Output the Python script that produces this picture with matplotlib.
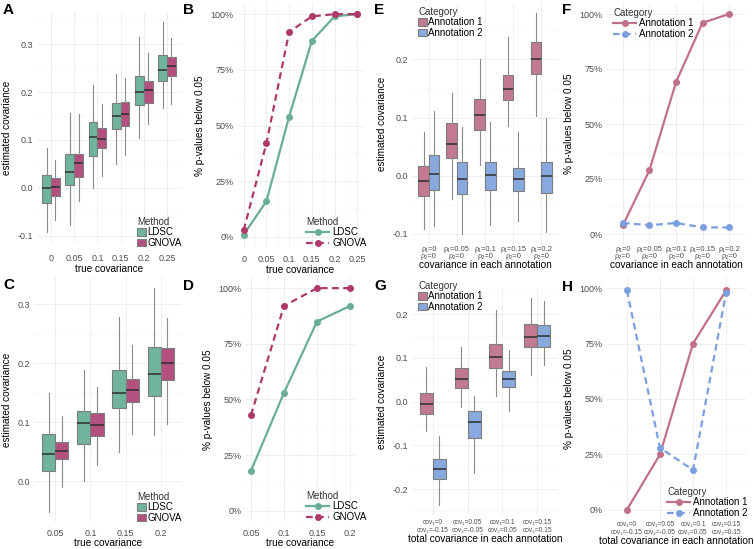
import matplotlib
matplotlib.use('Agg')
import matplotlib.pyplot as plt
from matplotlib.patches import Patch
from matplotlib.lines import Line2D
from matplotlib.ticker import FixedLocator, FuncFormatter

plt.rcParams['font.family'] = ['Liberation Sans', 'DejaVu Sans']

# ---------------- data ----------------
# box stats: [whisker low, q1, median, q3, whisker high]
a_cats = ["0", "0.05", "0.1", "0.15", "0.2", "0.25"]
a_ldsc = [[-0.093, -0.031, -0.001, 0.026, 0.084],
          [-0.078, 0.006, 0.034, 0.071, 0.157],
          [0.000, 0.067, 0.106, 0.138, 0.214],
          [0.050, 0.123, 0.150, 0.177, 0.237],
          [0.105, 0.172, 0.201, 0.233, 0.315],
          [0.167, 0.222, 0.245, 0.277, 0.346]]
a_gnova = [[-0.068, -0.016, 0.002, 0.020, 0.059],
           [-0.028, 0.023, 0.052, 0.070, 0.155],
           [0.025, 0.083, 0.102, 0.124, 0.176],
           [0.068, 0.130, 0.154, 0.179, 0.230],
           [0.134, 0.177, 0.205, 0.222, 0.281],
           [0.176, 0.233, 0.255, 0.273, 0.312]]

b_x = [0, 0.05, 0.1, 0.15, 0.2, 0.25]
b_ldsc = [0.01, 0.16, 0.54, 0.88, 0.99, 1.00]
b_gnova = [0.03, 0.42, 0.92, 0.99, 1.00, 1.00]

c_cats = ["0.05", "0.1", "0.15", "0.2"]
c_ldsc = [[-0.052, 0.018, 0.047, 0.080, 0.149],
          [0.000, 0.063, 0.098, 0.119, 0.188],
          [0.050, 0.124, 0.150, 0.189, 0.278],
          [0.078, 0.145, 0.182, 0.228, 0.327]]
c_gnova = [[-0.009, 0.037, 0.051, 0.066, 0.111],
           [0.027, 0.077, 0.095, 0.115, 0.159],
           [0.080, 0.134, 0.154, 0.173, 0.230],
           [0.097, 0.172, 0.200, 0.226, 0.277]]

d_x = [0.05, 0.1, 0.15, 0.2]
d_ldsc = [0.18, 0.53, 0.85, 0.92]
d_gnova = [0.43, 0.92, 1.00, 1.00]

e_cats = ["ρ₁=0\nρ₂=0", "ρ₁=0.05\nρ₂=0", "ρ₁=0.1\nρ₂=0", "ρ₁=0.15\nρ₂=0", "ρ₁=0.2\nρ₂=0"]
e_ann1 = [[-0.091, -0.034, -0.009, 0.016, 0.076],
          [-0.040, 0.030, 0.054, 0.090, 0.142],
          [0.018, 0.078, 0.105, 0.132, 0.200],
          [0.085, 0.130, 0.150, 0.174, 0.238],
          [0.102, 0.175, 0.200, 0.230, 0.279]]
e_ann2 = [[-0.087, -0.024, 0.003, 0.035, 0.111],
          [-0.100, -0.031, -0.006, 0.023, 0.083],
          [-0.085, -0.025, 0.002, 0.024, 0.093],
          [-0.078, -0.027, -0.006, 0.014, 0.075],
          [-0.097, -0.030, 0.000, 0.023, 0.100]]

f_ann1 = [0.04, 0.29, 0.69, 0.96, 1.00]
f_ann2 = [0.05, 0.04, 0.05, 0.03, 0.03]

g_cats = ["cov₁=0\ncov₂=-0.15", "cov₁=0.05\ncov₂=-0.05", "cov₁=0.1\ncov₂=0.05", "cov₁=0.15\ncov₂=0.15"]
g_ann1 = [[-0.066, -0.029, -0.006, 0.019, 0.080],
          [-0.013, 0.031, 0.053, 0.076, 0.124],
          [0.013, 0.076, 0.102, 0.131, 0.210],
          [0.061, 0.124, 0.149, 0.177, 0.237]]
g_ann2 = [[-0.237, -0.177, -0.153, -0.130, -0.078],
          [-0.162, -0.082, -0.047, -0.021, 0.013],
          [-0.021, 0.033, 0.053, 0.070, 0.118],
          [0.084, 0.126, 0.151, 0.176, 0.231]]

h_ann1 = [0.00, 0.25, 0.75, 0.99]
h_ann2 = [0.99, 0.28, 0.18, 0.98]

# ---------------- style ----------------
GREEN = '#6fb49b'
MAGENTA = '#b4507f'
GREEN_L = '#6aae95'
MAGENTA_L = '#ad3a6a'
PINK = '#c17a8f'
BLUE = '#88a9de'
PINK_L = '#c07088'
BLUE_L = '#7b9fe0'
TICK = '#4d4d4d'
TS = 6.5     # tick size
AS = 7.2     # axis title size
LS = 7       # legend size

W, H = 754, 549
fig = plt.figure(figsize=(W / 100, H / 100), dpi=100)


def rect(l, t, r, b):
    return [l / W, 1 - b / H, (r - l) / W, (b - t) / H]


def new_ax(l, t, r, b):
    ax = fig.add_axes(rect(l, t, r, b))
    ax.set_facecolor('none')
    return ax


def style(ax):
    for s in ax.spines.values():
        s.set_visible(False)
    ax.set_axisbelow(True)
    ax.grid(which='major', color='#ebebeb', lw=0.6)
    ax.grid(which='minor', color='#f6f6f6', lw=0.5)
    ax.tick_params(which='both', length=0, labelsize=TS, labelcolor=TICK, pad=3)


def pct(v, p):
    return f"{int(round(v * 100))}%"


def boxpanel(ax, s1, s2, c1, c2, cats, ylim, ymaj, ymin):
    n = len(cats)
    for stats, col, off in ((s1, c1, -0.1875), (s2, c2, 0.1875)):
        pos = [i + 1 + off for i in range(n)]
        bs = [dict(whislo=s[0], q1=s[1], med=s[2], q3=s[3], whishi=s[4], fliers=[]) for s in stats]
        ax.bxp(bs, positions=pos, widths=0.375, patch_artist=True, showcaps=False,
               showfliers=False, manage_ticks=False,
               boxprops=dict(facecolor=col, edgecolor='#7d7d7d', lw=0.8),
               medianprops=dict(color='#2e2e2e', lw=1.1),
               whiskerprops=dict(color='#8a8a8a', lw=0.8))
    ax.set_xlim(0.4, n + 0.6)
    ax.set_ylim(*ylim)
    ax.xaxis.set_major_locator(FixedLocator(range(1, n + 1)))
    ax.set_xticklabels(cats)
    ax.yaxis.set_major_locator(FixedLocator(ymaj))
    ax.yaxis.set_minor_locator(FixedLocator(ymin))
    ax.set_yticklabels([f"{v:.1f}" for v in ymaj])
    style(ax)


def linepanel(ax, x, y1, y2, c1, c2, xlim, xmaj, xmin, xlabels):
    ax.plot(x, y1, color=c1, lw=1.6, ls='-', marker='o', ms=4, zorder=3)
    ax.plot(x, y2, color=c2, lw=1.6, ls=(0, (3, 2)), marker='o', ms=4, zorder=3)
    ax.set_xlim(*xlim)
    ax.set_ylim(-0.05, 1.05)
    ax.xaxis.set_major_locator(FixedLocator(xmaj))
    ax.xaxis.set_minor_locator(FixedLocator(xmin))
    ax.set_xticklabels(xlabels)
    ax.yaxis.set_major_locator(FixedLocator([0, 0.25, 0.5, 0.75, 1.0]))
    ax.yaxis.set_minor_locator(FixedLocator([0.125, 0.375, 0.625, 0.875]))
    ax.yaxis.set_major_formatter(FuncFormatter(pct))
    style(ax)


def box_legend(ax, title, labels, colors, x, y):
    handles = [Patch(facecolor=c, edgecolor='#7d7d7d', lw=0.8) for c in colors]
    lg = ax.legend(handles, labels, title=title, loc='upper left',
                   bbox_to_anchor=(x / W, 1 - y / H), bbox_transform=fig.transFigure,
                   frameon=False, fontsize=LS, title_fontsize=LS, handlelength=0.9,
                   handleheight=0.8, handletextpad=0.15, labelspacing=0.05,
                   borderpad=0, borderaxespad=0, alignment='left')
    lg.get_title().set_color('#333333')


def line_legend(ax, title, labels, colors, x, y):
    handles = [Line2D([], [], color=colors[0], lw=1.6, ls='-', marker='o', ms=4),
               Line2D([], [], color=colors[1], lw=1.6, ls=(0, (3, 2)), marker='o', ms=4)]
    lg = ax.legend(handles, labels, title=title, loc='upper left',
                   bbox_to_anchor=(x / W, 1 - y / H), bbox_transform=fig.transFigure,
                   frameon=False, fontsize=LS, title_fontsize=LS, handlelength=2.4,
                   handletextpad=0.3, labelspacing=0.05, borderpad=0,
                   borderaxespad=0, alignment='left')
    lg.get_title().set_color('#333333')


def label(x, y, s):
    fig.text(x / W, 1 - y / H, s, fontsize=11, fontweight='bold', ha='left', va='center')


def small_xlabels(ax, size, ls, pad):
    ax.tick_params(axis='x', labelsize=size, pad=pad)
    for t in ax.get_xticklabels():
        t.set_linespacing(ls)


# ---------- A ----------
axA = new_ax(37, 12, 181, 243)
boxpanel(axA, a_ldsc, a_gnova, GREEN, MAGENTA, a_cats, (-0.115, 0.367),
         [-0.1, 0.0, 0.1, 0.2, 0.3], [-0.05, 0.05, 0.15, 0.25, 0.35])
axA.tick_params(axis='x', pad=8)
axA.set_xlabel("true covariance", fontsize=AS, labelpad=1)
axA.set_ylabel("estimated covariance", fontsize=AS, labelpad=4)
box_legend(axA, "Method", ["LDSC", "GNOVA"], [GREEN, MAGENTA], 137, 217)

# ---------- B ----------
axB = new_ax(238, 3, 363, 248)
linepanel(axB, b_x, b_ldsc, b_gnova, GREEN_L, MAGENTA_L, (-0.0125, 0.2625),
          b_x, [0.025, 0.075, 0.125, 0.175, 0.225], ["0", "0.05", "0.1", "0.15", "0.2", "0.25"])
axB.tick_params(axis='x', pad=5)
axB.set_xlabel("true covariance", fontsize=AS, labelpad=1)
axB.set_ylabel("% p-values below 0.05", fontsize=AS, labelpad=4)
line_legend(axB, "Method", ["LDSC", "GNOVA"], [GREEN_L, MAGENTA_L], 306, 217)

# ---------- E ----------
axE = new_ax(412, 3, 558, 245)
boxpanel(axE, e_ann1, e_ann2, PINK, BLUE, e_cats, (-0.119, 0.297),
         [-0.1, 0.0, 0.1, 0.2], [-0.05, 0.05, 0.15, 0.25])
small_xlabels(axE, 5.5, 0.95, 1)
axE.set_xlabel("covariance in each annotation", fontsize=AS, labelpad=0)
axE.set_ylabel("estimated covariance", fontsize=AS, labelpad=4)
box_legend(axE, "Category", ["Annotation 1", "Annotation 2"], [PINK, BLUE], 418, 7)

# ---------- F ----------
axF = new_ax(607, 3, 745, 245)
fx = list(range(1, 6))
linepanel(axF, fx, f_ann1, f_ann2, PINK_L, BLUE_L, (0.4, 5.6), fx, [], e_cats)
small_xlabels(axF, 5.5, 0.95, 1)
axF.set_xlabel("covariance in each annotation", fontsize=AS, labelpad=0)
axF.set_ylabel("% p-values below 0.05", fontsize=AS, labelpad=4)
line_legend(axF, "Category", ["Annotation 1", "Annotation 2"], [PINK_L, BLUE_L], 613, 8)

# ---------- C ----------
axC = new_ax(34, 277, 182, 522)
boxpanel(axC, c_ldsc, c_gnova, GREEN, MAGENTA, c_cats, (-0.069, 0.346),
         [0.0, 0.1, 0.2, 0.3], [0.05, 0.15, 0.25])
axC.tick_params(axis='x', pad=5)
axC.set_xlabel("true covariance", fontsize=AS, labelpad=0)
axC.set_ylabel("estimated covariance", fontsize=AS, labelpad=4)
box_legend(axC, "Method", ["LDSC", "GNOVA"], [GREEN, MAGENTA], 137, 492)

# ---------- D ----------
axD = new_ax(246, 277, 355, 522)
linepanel(axD, d_x, d_ldsc, d_gnova, GREEN_L, MAGENTA_L, (0.0425, 0.2075),
          d_x, [0.075, 0.125, 0.175], ["0.05", "0.1", "0.15", "0.2"])
axD.tick_params(axis='x', pad=5)
axD.set_xlabel("true covariance", fontsize=AS, labelpad=0)
axD.set_ylabel("% p-values below 0.05", fontsize=AS, labelpad=4)
line_legend(axD, "Method", ["LDSC", "GNOVA"], [GREEN_L, MAGENTA_L], 306, 491)

# ---------- G ----------
axG = new_ax(412, 288, 558, 515)
boxpanel(axG, g_ann1, g_ann2, PINK, BLUE, g_cats, (-0.259, 0.26),
         [-0.2, -0.1, 0.0, 0.1, 0.2], [-0.25, -0.15, -0.05, 0.05, 0.15, 0.25])
small_xlabels(axG, 4.8, 1.25, 3)
axG.set_xlabel("total covariance in each annotation", fontsize=AS, labelpad=0)
axG.set_ylabel("estimated covariance", fontsize=AS, labelpad=4)
box_legend(axG, "Category", ["Annotation 1", "Annotation 2"], [PINK, BLUE], 418, 281)

# ---------- H ----------
axH = new_ax(607, 277, 746, 521)
hx = list(range(1, 5))
linepanel(axH, hx, h_ann1, h_ann2, PINK_L, BLUE_L, (0.4, 4.6), hx, [], g_cats)
small_xlabels(axH, 4.8, 1.25, 0)
axH.set_xlabel("total covariance in each annotation", fontsize=AS, labelpad=0)
axH.set_ylabel("% p-values below 0.05", fontsize=AS, labelpad=4)
line_legend(axH, "Category", ["Annotation 1", "Annotation 2"], [PINK_L, BLUE_L], 667, 487)

# panel letters
label(3, 10, "A")
label(183, 10, "B")
label(374, 10, "E")
label(562, 10, "F")
label(3, 285, "C")
label(183, 286, "D")
label(374, 286, "G")
label(562, 287, "H")

fig.savefig("out.png", dpi=100)
